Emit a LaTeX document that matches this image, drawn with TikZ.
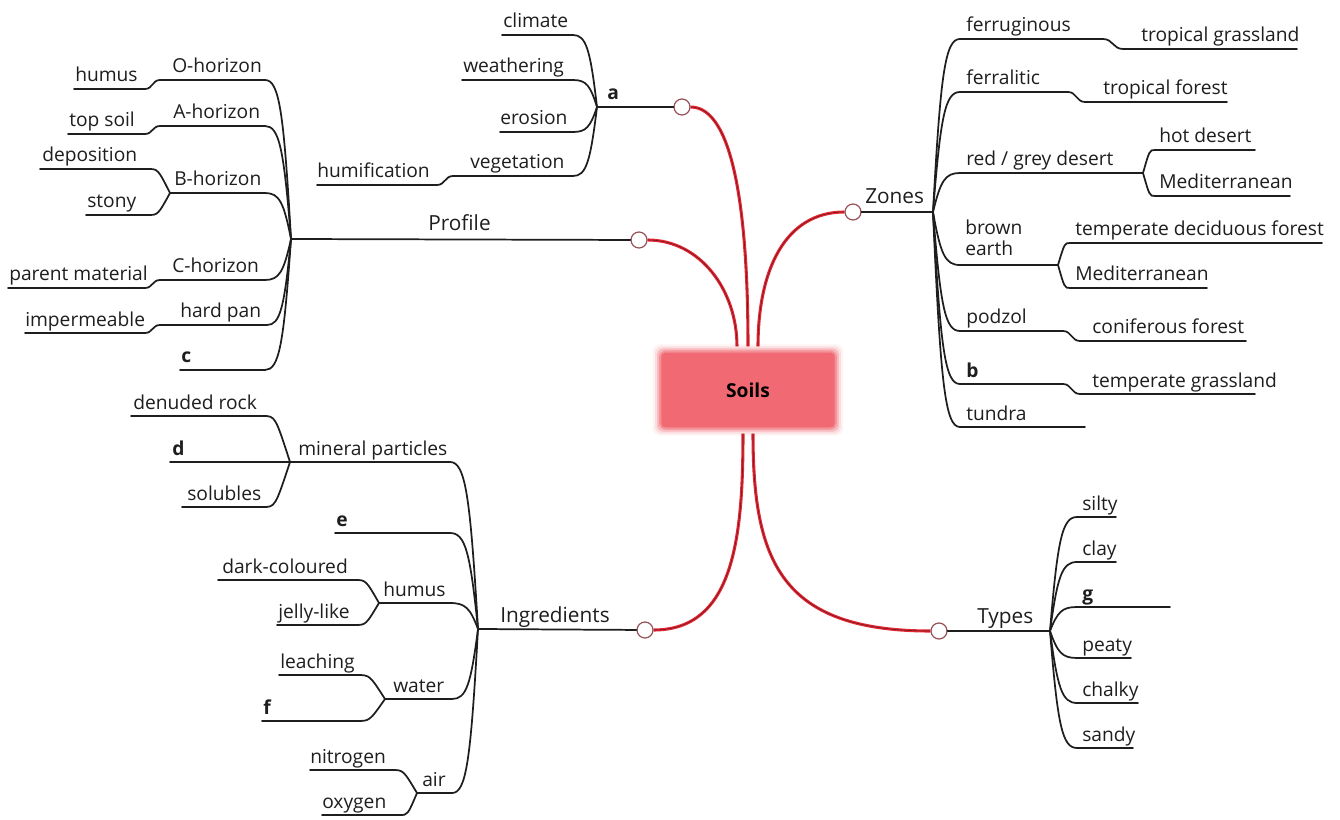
\documentclass[tikz,border=0pt]{standalone}
\usepackage{fontspec}
\setmainfont{Open Sans}
\usetikzlibrary{calc,backgrounds}

\definecolor{soilred}{RGB}{241,105,114}
\definecolor{linkred}{RGB}{228,40,52}
\definecolor{linkcore}{RGB}{120,25,32}
\definecolor{ink}{RGB}{30,30,30}
\definecolor{knobrim}{RGB}{150,80,88}

\newcommand\lblsize{\fontsize{14.4}{17}\selectfont}
\newcommand\mainsize{\fontsize{15.6}{18}\selectfont}

% a labelled underline: name, left x, right x, line y, text x, text
\newcommand\twig[6]{%
  \coordinate (#1-l) at (#2,#4);
  \coordinate (#1-r) at (#3,#4);
  \draw[branch] (#1-l) -- (#1-r);
  \node[lbl] (#1) at (#5,#4-7) {#6};
}

\tikzset{
  branch/.style={draw=ink, line width=1.3pt, line cap=round},
  lbl/.style={anchor=base west, inner sep=0pt, font=\lblsize, text=ink},
  key/.style={lbl, font=\lblsize\bfseries},
  mainlbl/.style={lbl, font=\mainsize},
  link/.style={draw=linkred, double=linkcore, double distance=0.5pt, line width=0.9pt},
  knob/.style={circle, draw=knobrim, fill=white, line width=0.9pt, minimum size=12pt, inner sep=0pt},
  fan/.style={to path={let \p1=(\tikztostart), \p2=(\tikztotarget) in
     .. controls ({\x1+0.55*(\x2-\x1)},\y1) and ({\x1+0.72*(\x2-\x1)},{\y1+0.2*(\y2-\y1)}) .. (\tikztotarget)}},
  fork/.style={to path={let \p1=(\tikztostart), \p2=(\tikztotarget) in
     .. controls ({\x1+0.45*(\x2-\x1)},\y1) .. (\tikztotarget)}},
  sbend/.style={to path={let \p1=(\tikztostart), \p2=(\tikztotarget) in
     .. controls ({\x1+0.5*(\x2-\x1)},\y1) and ({\x1+0.5*(\x2-\x1)},\y2) .. (\tikztotarget)}},
}

\begin{document}
\begin{tikzpicture}[x=0.75pt, y=-0.75pt]
\useasboundingbox (0,0) rectangle (1340,820);
\begin{scope}[on background layer]
  \fill[white] (0,0) rectangle (1340,820);
\end{scope}

% ---- central topic ----
\node[fill=soilred, rounded corners=3pt, minimum width=130pt, minimum height=56pt,
      inner sep=0pt, font=\lblsize\bfseries, text=black] (soils) at (748,390) {Soils};
\begin{scope}[on background layer]
  \foreach \g/\o in {8/0.08, 6/0.15, 4/0.3, 2/0.5}
    \fill[soilred, opacity=\o, rounded corners=5pt]
      ($(soils.south west)+(-\g,\g)$) rectangle ($(soils.north east)+(\g,-\g)$);
\end{scope}

% ---- knobs and hubs ----
\node[knob] (kP) at (639,240) {};
\node[knob] (kA) at (682,107) {};
\node[knob] (kZ) at (853,212) {};
\node[knob] (kI) at (645,630) {};
\node[knob] (kT) at (939,631) {};
\coordinate (hubP) at (291,239);
\coordinate (hubA) at (597,107);
\coordinate (hubZ) at (933,212);
\coordinate (hubI) at (478,629);
\coordinate (hubT) at (1050,631);

% ---- red links from the central topic ----
\draw[link] ($(soils.north)+(-11,-6)$) .. controls (737,290) and (700,240) .. (kP.east);
\draw[link] ($(soils.north)+(0,-6)$) .. controls (748,220) and (735,107) .. (kA.east);
\draw[link] ($(soils.north)+(10,-6)$) .. controls (758,270) and (785,212) .. (kZ.west);
\draw[link] ($(soils.south)+(-5,6)$) .. controls (743,540) and (733,630) .. (kI.east);
\draw[link] ($(soils.south)+(5,6)$) .. controls (753,560) and (780,631) .. (kT.west);

% ---- main stems ----
\draw[branch] (kP) -- (hubP);
\draw[branch] (kA) -- (hubA);
\draw[branch] (kZ) -- (hubZ);
\draw[branch] (kI) -- (hubI);
\draw[branch] (kT) -- (hubT);
\node[mainlbl] (profile) at (428,231) {Profile};
\node[key] (alab) at (607,100) {a};
\node[mainlbl] (zones) at (865,204) {Zones};
\node[mainlbl] (ingred) at (500,622) {Ingredients};
\node[mainlbl] (types) at (977,623) {Types};

% ---- Profile ----
\twig{ohor}{160}{265}{80}{172}{O-horizon}
\twig{hum}{74}{145}{89}{75}{humus}
\twig{ahor}{160}{265}{126}{173}{A-horizon}
\twig{tops}{68}{145}{134}{69}{top soil}
\twig{depo}{40}{148}{169}{42}{deposition}
\twig{bhor}{170}{265}{193}{174}{B-horizon}
\twig{stony}{86}{148}{215}{87}{stony}
\twig{chor}{160}{265}{280}{172}{C-horizon}
\twig{parent}{8}{145}{288}{9}{parent material}
\twig{hpan}{160}{267}{325}{180}{hard pan}
\twig{imper}{25}{145}{333}{25}{impermeable}
\twig{cgap}{180}{265}{370}{181}{\textbf{c}}
\draw[branch] (hum-r) to[sbend] (ohor-l);
\draw[branch] (tops-r) to[sbend] (ahor-l);
\draw[branch] (depo-r) to[fork] (bhor-l);
\draw[branch] (stony-r) to[fork] (bhor-l);
\draw[branch] (parent-r) to[sbend] (chor-l);
\draw[branch] (imper-r) to[sbend] (hpan-l);
\foreach \br in {ohor,ahor,bhor,chor,hpan,cgap}
  \draw[branch] (\br-r) to[fan] (hubP);

% ---- a ----
\twig{clim}{502}{573}{35}{503}{climate}
\twig{weath}{462}{573}{80}{463}{weathering}
\twig{eros}{500}{573}{132}{500}{erosion}
\twig{veg}{453}{573}{176}{470}{vegetation}
\twig{humif}{317}{437}{185}{317}{humification}
\draw[branch] (humif-r) to[sbend] (veg-l);
\foreach \br in {clim,weath,eros,veg}
  \draw[branch] (\br-r) to[fan] (hubA);

% ---- Zones ----
\twig{ferrug}{960}{1103}{39}{966}{ferruginous}
\twig{tgrass}{1123}{1297}{49}{1141}{tropical grassland}
\twig{ferral}{960}{1068}{92}{966}{ferralitic}
\twig{tfor}{1085}{1227}{102}{1103}{tropical forest}
\twig{desert}{960}{1143}{173}{966}{red / grey desert}
\twig{hotd}{1155}{1255}{150}{1159}{hot desert}
\twig{medA}{1155}{1290}{196}{1159}{Mediterranean}
\coordinate (brown-l) at (960,265);
\coordinate (brown-r) at (1058,265);
\draw[branch] (brown-l) -- (brown-r);
\node[lbl] (brown) at (965,235) {brown};
\node[lbl] (earth) at (965,256) {earth};
\twig{tdec}{1070}{1322}{243}{1075}{temperate deciduous forest}
\twig{medB}{1070}{1207}{288}{1075}{Mediterranean}
\twig{podzol}{960}{1063}{331}{966}{podzol}
\twig{conif}{1080}{1246}{341}{1092}{coniferous forest}
\twig{bgap}{960}{1063}{384}{966}{\textbf{b}}
\twig{tgrassB}{1080}{1255}{394}{1092}{temperate grassland}
\twig{tundra}{960}{1085}{427}{966}{tundra}
\draw[branch] (ferrug-r) to[sbend] (tgrass-l);
\draw[branch] (ferral-r) to[sbend] (tfor-l);
\draw[branch] (hotd-l) to[fork] (desert-r);
\draw[branch] (medA-l) to[fork] (desert-r);
\draw[branch] (tdec-l) to[fork] (brown-r);
\draw[branch] (medB-l) to[fork] (brown-r);
\draw[branch] (podzol-r) to[sbend] (conif-l);
\draw[branch] (bgap-r) to[sbend] (tgrassB-l);
\foreach \br in {ferrug,ferral,desert,brown,podzol,bgap,tundra}
  \draw[branch] (\br-l) to[fan] (hubZ);

% ---- Types ----
\twig{silty}{1077}{1116}{517}{1082}{silty}
\twig{clay}{1077}{1116}{562}{1082}{clay}
\twig{ggap}{1077}{1170}{607}{1082}{\textbf{g}}
\twig{peaty}{1077}{1131}{658}{1082}{peaty}
\twig{chalky}{1077}{1138}{703}{1082}{chalky}
\twig{sandy}{1077}{1133}{748}{1082}{sandy}
\foreach \br in {silty,clay,ggap,peaty,chalky,sandy}
  \draw[branch] (\br-l) to[fan] (hubT);

% ---- Ingredients ----
\twig{denud}{131}{263}{416}{133}{denuded rock}
\twig{dgap}{170}{290}{462}{172}{\textbf{d}}
\twig{miner}{290}{450}{462}{298}{mineral particles}
\twig{solub}{182}{263}{507}{187}{solubles}
\twig{egap}{335}{450}{533}{336}{\textbf{e}}
\twig{dark}{218}{355}{580}{222}{dark-coloured}
\twig{humI}{379}{450}{603}{383}{humus}
\twig{jelly}{277}{355}{625}{278}{jelly-like}
\twig{leach}{279}{357}{675}{280}{leaching}
\twig{water}{385}{452}{699}{393}{water}
\twig{fgap}{262}{357}{721}{263}{\textbf{f}}
\twig{nitro}{310}{392}{770}{310}{nitrogen}
\twig{air}{417}{452}{793}{422}{air}
\twig{oxy}{322}{400}{815}{322}{oxygen}
\draw[branch] (denud-r) to[fork] (miner-l);
\draw[branch] (solub-r) to[fork] (miner-l);
\draw[branch] (dark-r) to[fork] (humI-l);
\draw[branch] (jelly-r) to[fork] (humI-l);
\draw[branch] (leach-r) to[fork] (water-l);
\draw[branch] (fgap-r) to[fork] (water-l);
\draw[branch] (nitro-r) to[fork] (air-l);
\draw[branch] (oxy-r) to[fork] (air-l);
\foreach \br in {miner,egap,humI,water,air}
  \draw[branch] (\br-r) to[fan] (hubI);
\end{tikzpicture}
\end{document}
